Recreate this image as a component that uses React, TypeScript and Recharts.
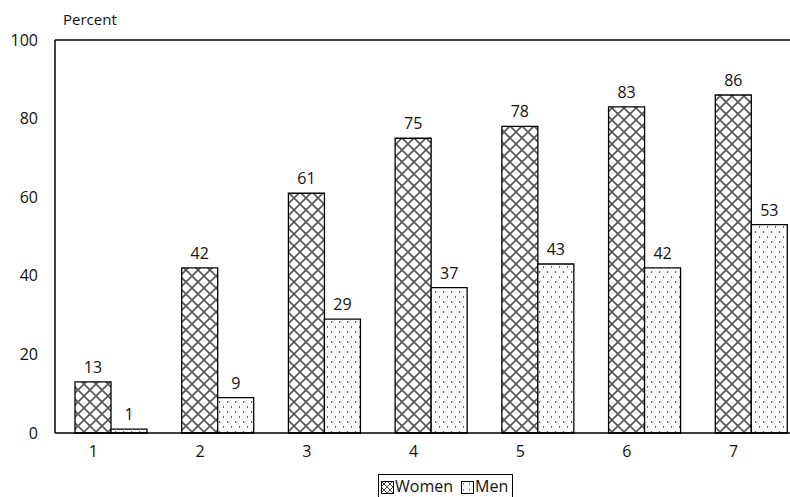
import { BarChart, Bar, XAxis, YAxis, LabelList, ReferenceLine } from 'recharts'

const groups = ['1', '2', '3', '4', '5', '6', '7']
const women = [13, 42, 61, 75, 78, 83, 86]
const men = [1, 9, 29, 37, 43, 42, 53]
const yTicks = [0, 20, 40, 60, 80, 100]

const data = groups.map((g, i) => ({ group: g, women: women[i], men: men[i] }))

const FONT = '"Open Sans", "Noto Sans", sans-serif'
const BAR = 36

function Patterns() {
  return (
    <defs>
      <pattern id="hatchWomen" width="12" height="12" patternUnits="userSpaceOnUse">
        <rect width="12" height="12" fill="#fff" />
        <path d="M0,0 L12,12 M12,0 L0,12" stroke="#555" strokeWidth="1.6" />
      </pattern>
      <pattern id="dotsMen" width="8" height="10" patternUnits="userSpaceOnUse">
        <rect width="8" height="10" fill="#fff" />
        <rect x="3" y="1" width="1.2" height="2" fill="#666" />
        <rect x="7" y="6" width="1.2" height="2" fill="#666" />
      </pattern>
    </defs>
  )
}

// category labels sit under the first bar of each group
function GroupTick(props: any) {
  const { x, y, payload } = props
  return (
    <text x={x - BAR / 2} y={y + 16} textAnchor="middle" fontSize={16} fontFamily={FONT} fill="#111">
      {payload.value}
    </text>
  )
}

function Swatch({ id }: { id: string }) {
  return (
    <svg width={13} height={13} style={{ verticalAlign: 'middle', marginRight: 1 }}>
      <defs>
        <pattern id={`${id}L`} width="6" height="6" patternUnits="userSpaceOnUse">
          <rect width="6" height="6" fill="#fff" />
          {id === 'hatchWomen' ? (
            <path d="M0,0 L6,6 M6,0 L0,6" stroke="#555" strokeWidth="1" />
          ) : (
            <rect x="2" y="2" width="1" height="1.5" fill="#666" />
          )}
        </pattern>
      </defs>
      <rect x={0.5} y={0.5} width={12} height={12} fill={`url(#${id}L)`} stroke="#000" />
    </svg>
  )
}

export default function App() {
  return (
    <div
      style={{
        position: 'absolute',
        left: 0,
        top: 0,
        width: 790,
        height: 497,
        overflow: 'hidden',
        background: '#fff',
        fontFamily: FONT,
      }}
    >
      <div style={{ position: 'absolute', left: 63, top: 9, fontSize: 15, color: '#111' }}>Percent</div>
      <BarChart
        width={805}
        height={497}
        data={data}
        margin={{ top: 40, right: 0, bottom: 34, left: 0 }}
        barGap={0}
        barSize={BAR}
      >
        <Patterns />
        <XAxis
          dataKey="group"
          tick={<GroupTick />}
          tickLine={false}
          axisLine={{ stroke: '#000', strokeWidth: 1.5 }}
          padding={{ left: 3, right: 0 }}
          height={30}
        />
        <YAxis
          domain={[0, 100]}
          ticks={yTicks}
          width={55}
          tickLine={false}
          tickSize={0}
          tickMargin={17}
          axisLine={{ stroke: '#000', strokeWidth: 1.5 }}
          tick={{ fontSize: 16, fontFamily: FONT, fill: '#111' }}
        />
        <ReferenceLine y={100} stroke="#000" strokeWidth={1.5} />
        <Bar dataKey="women" fill="url(#hatchWomen)" stroke="#000" strokeWidth={1.3} isAnimationActive={false}>
          <LabelList dataKey="women" position="top" offset={9} fontSize={16} fontFamily={FONT} fill="#111" />
        </Bar>
        <Bar dataKey="men" fill="url(#dotsMen)" stroke="#000" strokeWidth={1.3} isAnimationActive={false}>
          <LabelList dataKey="men" position="top" offset={9} fontSize={16} fontFamily={FONT} fill="#111" />
        </Bar>
      </BarChart>
      <div
        style={{
          position: 'absolute',
          left: 378,
          top: 474,
          border: '1px solid #000',
          padding: '1px 4px 1px 2px',
          fontSize: 16,
          lineHeight: '20px',
          color: '#111',
          whiteSpace: 'nowrap',
        }}
      >
        <Swatch id="hatchWomen" />
        <span style={{ marginRight: 8 }}>Women</span>
        <Swatch id="dotsMen" />
        <span>Men</span>
      </div>
    </div>
  )
}
